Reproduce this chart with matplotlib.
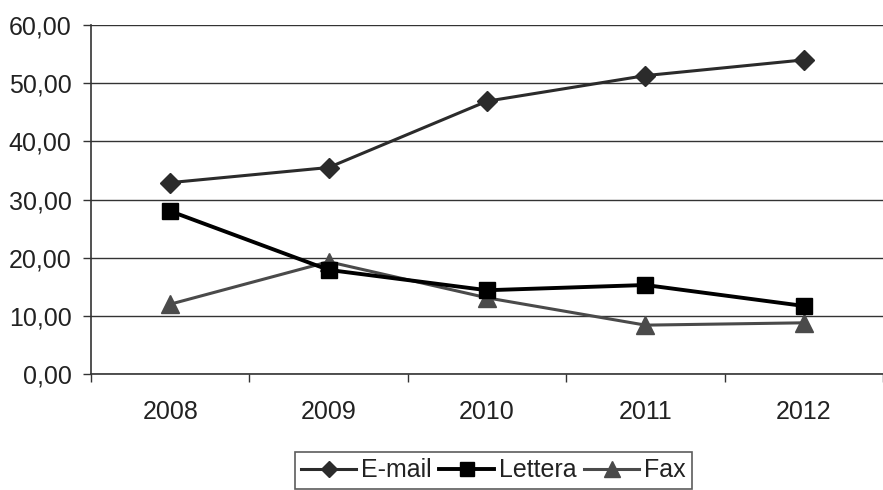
import matplotlib
matplotlib.use("Agg")
import matplotlib.pyplot as plt
from matplotlib.ticker import FuncFormatter

years = ["2008", "2009", "2010", "2011", "2012"]
email = [32.9, 35.5, 46.9, 51.3, 54.0]
lettera = [28.0, 17.9, 14.4, 15.3, 11.7]
fax = [12.0, 19.3, 13.1, 8.4, 8.8]

plt.rcParams['font.family'] = ['Liberation Sans', 'DejaVu Sans']

fig = plt.figure(figsize=(8.83, 4.9), dpi=100)
ax = fig.add_axes([91/883, 1-374/490, 1-91/883, (374-25)/490])

x = list(range(len(years)))
ax.plot(x, email, color='#2b2b2b', lw=2.2, marker='D', ms=10, label='E-mail', zorder=4)
ax.plot(x, lettera, color='#000000', lw=2.8, marker='s', ms=12, label='Lettera', zorder=3)
ax.plot(x, fax, color='#4a4a4a', lw=2.2, marker='^', ms=13, label='Fax', zorder=2)

ax.set_ylim(0, 60)
ax.set_yticks(range(0, 61, 10))
ax.yaxis.set_major_formatter(FuncFormatter(lambda v, p: f"{v:.2f}".replace('.', ',')))
ax.set_xlim(-0.5, 4.42)
ax.set_xticks(x)
ax.set_xticklabels(years)
ax.set_xticks([i - 0.5 for i in range(6)], minor=True)
ax.tick_params(axis='x', which='major', length=0, pad=19, labelsize=18, colors='#222222')
ax.tick_params(axis='x', which='minor', length=6, width=1, color='#333333')
ax.tick_params(axis='y', length=6, width=1, labelsize=18, colors='#222222', pad=8)
ax.tick_params(axis='y', color='#333333')
ax.grid(axis='y', color='#333333', lw=1)
for s in ['top', 'right']:
    ax.spines[s].set_visible(False)
ax.spines['left'].set_color('#333333')
ax.spines['bottom'].set_color('#333333')
ax.spines['left'].set_linewidth(1.2)
ax.spines['bottom'].set_linewidth(1.2)

leg = fig.legend(loc='upper center', bbox_to_anchor=(493.5/883, 1-452/490), ncol=3,
                 frameon=True, fancybox=False, edgecolor='#333333', fontsize=18,
                 handlelength=2.2, handletextpad=0.2, columnspacing=0.3,
                 borderpad=0.25, borderaxespad=0, markerscale=0.85)
leg.get_frame().set_linewidth(1.2)
for t in leg.get_texts():
    t.set_color('#222222')

fig.savefig("out.png", dpi=100)
